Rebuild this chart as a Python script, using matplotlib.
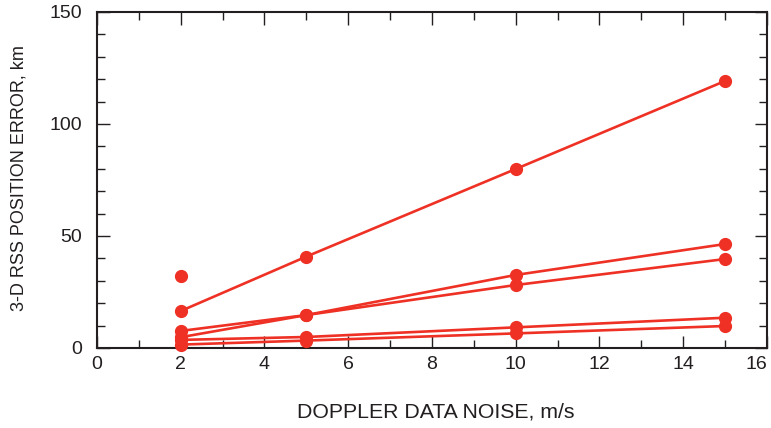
import matplotlib
matplotlib.use("Agg")
import matplotlib.pyplot as plt
from matplotlib.ticker import MultipleLocator

plt.rcParams['font.family'] = ['Liberation Sans', 'DejaVu Sans']

# doppler noise levels, m/s
noise = [2, 5, 10, 15]

# 3-D RSS position error, km, one list per case
case_a = [16.5, 40.8, 79.9, 119.2]
case_b = [7.6, 14.7, 28.1, 39.7]
case_c = [4.8, 14.7, 32.6, 46.4]
case_d = [3.6, 4.9, 9.2, 13.5]
case_e = [1.5, 3.3, 6.5, 9.8]
cases = [case_a, case_b, case_c, case_d, case_e]

# lone point at 2 m/s
lone_x = [2]
lone_y = [32.3]

x_ticks = [0, 2, 4, 6, 8, 10, 12, 14, 16]

red = '#ee3124'
ink = '#231f20'

fig = plt.figure(figsize=(7.71, 4.28), dpi=100)
ax = fig.add_axes([0.1258, 0.187, 0.869, 0.785])

for vals in cases:
    ax.plot(noise, vals, color=red, lw=1.9, marker='o', ms=8.5, clip_on=False, zorder=3)
ax.plot(lone_x, lone_y, color=red, marker='o', ms=8.5, ls='none', zorder=3)

ax.set_xlim(0, 16)
ax.set_ylim(0, 150)
ax.set_xticks(x_ticks)
ax.xaxis.set_minor_locator(MultipleLocator(1))
ax.yaxis.set_major_locator(MultipleLocator(50))
ax.yaxis.set_minor_locator(MultipleLocator(10))

for s in ax.spines.values():
    s.set_linewidth(1.5)
    s.set_color(ink)
ax.tick_params(which='both', direction='in', top=True, right=True, color=ink,
               labelsize=14, labelcolor=ink, width=1.0)
ax.tick_params(which='major', length=9)
ax.tick_params(which='minor', length=6)
ax.tick_params(axis='x', which='major', pad=6)
ax.tick_params(axis='y', which='major', pad=10.5)

# last x label sits inside the figure edge
ax.xaxis.get_major_ticks()[-1].label1.set_horizontalalignment('right')

ax.set_xlabel('DOPPLER DATA NOISE, m/s', fontsize=15.3, color=ink)
ax.set_ylabel('3-D RSS POSITION ERROR, km', fontsize=13, color=ink)
ax.xaxis.set_label_coords(0.505, -0.162)
ax.yaxis.set_label_coords(-0.103, 0.506)

fig.savefig('out.png', dpi=100)
